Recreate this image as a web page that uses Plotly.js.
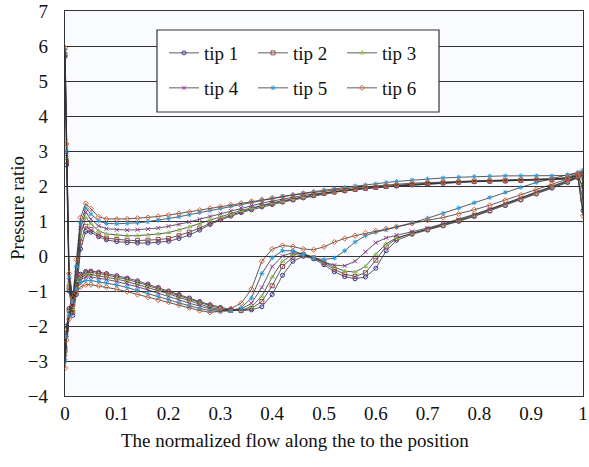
<!DOCTYPE html>
<html>
<head>
<meta charset="utf-8">
<script src="https://cdn.plot.ly/plotly-3.0.1.min.js"></script>
<style>html,body{margin:0;padding:0;background:#fff;}#chart{width:589px;height:467px;}</style>
</head>
<body>
<div id="chart"></div>
<script>
// Shared chordwise positions (normalized)
const xPos = [0, 0.003, 0.008, 0.015, 0.022, 0.03, 0.04, 0.05, 0.065, 0.08,
  0.1, 0.12, 0.14, 0.16, 0.18, 0.2, 0.22, 0.24, 0.26, 0.28,
  0.3, 0.32, 0.34, 0.36, 0.38, 0.4, 0.42, 0.44, 0.46, 0.48,
  0.5, 0.52, 0.54, 0.56, 0.58, 0.6, 0.62, 0.64,
  0.67, 0.7, 0.73, 0.76, 0.79, 0.82, 0.85, 0.88, 0.91, 0.94, 0.97,
  0.99, 1.0];

const tipNames = ["tip 1", "tip 2", "tip 3", "tip 4", "tip 5", "tip 6"];

// Upper branch of each loop
const tip1Upper = [5.7, 2.6, -1.0, -1.7, -1.1, 0.2, 0.7, 0.68, 0.55, 0.46,
  0.41, 0.38, 0.37, 0.37, 0.39, 0.42, 0.5, 0.6, 0.74, 0.9,
  1.03, 1.14, 1.24, 1.32, 1.4, 1.47, 1.54, 1.6, 1.66, 1.72,
  1.78, 1.82, 1.86, 1.9, 1.93, 1.96, 1.98, 2.0,
  2.03, 2.06, 2.08, 2.1, 2.12, 2.13, 2.14, 2.15, 2.16, 2.17, 2.2,
  2.3, 2.35];
const tip2Upper = [5.75, 2.7, -0.9, -1.6, -0.9, 0.4, 0.85, 0.76, 0.6, 0.51,
  0.47, 0.45, 0.44, 0.45, 0.47, 0.5, 0.58, 0.68, 0.8, 0.94,
  1.06, 1.17, 1.27, 1.35, 1.43, 1.5, 1.56, 1.62, 1.68, 1.73,
  1.79, 1.83, 1.87, 1.9, 1.93, 1.96, 1.99, 2.01,
  2.04, 2.07, 2.09, 2.11, 2.13, 2.14, 2.15, 2.16, 2.17, 2.18, 2.21,
  2.31, 2.36];
const tip3Upper = [5.8, 2.8, -0.8, -1.5, -0.7, 0.6, 1.1, 0.92, 0.72, 0.63,
  0.6, 0.58, 0.58, 0.6, 0.63, 0.67, 0.74, 0.83, 0.93, 1.03,
  1.12, 1.21, 1.3, 1.38, 1.45, 1.52, 1.58, 1.64, 1.7, 1.75,
  1.8, 1.84, 1.88, 1.91, 1.94, 1.97, 2.0, 2.02,
  2.05, 2.08, 2.1, 2.12, 2.14, 2.15, 2.16, 2.17, 2.18, 2.19, 2.22,
  2.32, 2.2];
const tip4Upper = [5.85, 2.9, -0.7, -1.4, -0.5, 0.8, 1.25, 1.05, 0.86, 0.78,
  0.75, 0.74, 0.75, 0.77, 0.8, 0.85, 0.9, 0.97, 1.05, 1.13,
  1.21, 1.29, 1.37, 1.44, 1.51, 1.57, 1.63, 1.68, 1.73, 1.77,
  1.81, 1.85, 1.88, 1.91, 1.94, 1.96, 1.99, 2.01,
  2.04, 2.07, 2.09, 2.11, 2.13, 2.14, 2.15, 2.16, 2.17, 2.18, 2.22,
  2.32, 1.9];
const tip5Upper = [5.9, 3.0, -0.6, -1.3, -0.3, 0.95, 1.37, 1.2, 1.0, 0.93,
  0.92, 0.93, 0.95, 0.98, 1.02, 1.07, 1.12, 1.18, 1.24, 1.3,
  1.36, 1.42, 1.48, 1.54, 1.6, 1.65, 1.7, 1.75, 1.8, 1.84,
  1.88, 1.92, 1.96, 2.0, 2.03, 2.06, 2.1, 2.13,
  2.17, 2.2, 2.23, 2.25, 2.27, 2.28, 2.29, 2.29, 2.29, 2.29, 2.3,
  2.38, 2.42];
const tip6Upper = [5.95, 3.2, -0.5, -1.2, -0.1, 1.1, 1.5, 1.35, 1.12, 1.06,
  1.05, 1.06, 1.08, 1.1, 1.13, 1.17, 1.21, 1.26, 1.31, 1.36,
  1.41, 1.46, 1.51, 1.56, 1.61, 1.66, 1.7, 1.74, 1.78, 1.82,
  1.86, 1.89, 1.92, 1.95, 1.98, 2.0, 2.03, 2.05,
  2.08, 2.1, 2.12, 2.14, 2.15, 2.16, 2.17, 2.18, 2.19, 2.2, 2.25,
  2.35, 2.4];

// Lower branch of each loop
const tip1Lower = [-2.6, -2.0, -1.5, -1.1, -0.75, -0.52, -0.44, -0.43, -0.46, -0.5,
  -0.56, -0.63, -0.71, -0.8, -0.9, -1.0, -1.1, -1.2, -1.3, -1.39,
  -1.47, -1.53, -1.56, -1.54, -1.45, -1.1, -0.55, -0.15, -0.01, -0.08,
  -0.25, -0.45, -0.59, -0.65, -0.6, -0.35, 0.15, 0.45,
  0.62, 0.74, 0.86, 0.99, 1.13, 1.28, 1.44, 1.6, 1.77, 1.94, 2.1,
  2.24, 1.3];
const tip2Lower = [-2.7, -2.1, -1.55, -1.15, -0.8, -0.56, -0.48, -0.47, -0.5, -0.54,
  -0.6, -0.67, -0.75, -0.84, -0.93, -1.03, -1.13, -1.23, -1.33, -1.42,
  -1.5, -1.55, -1.56, -1.5, -1.3, -0.85, -0.3, -0.03, 0.03, -0.05,
  -0.2, -0.38, -0.52, -0.58, -0.48, -0.12, 0.28, 0.5,
  0.65, 0.76, 0.88, 1.01, 1.15, 1.3, 1.46, 1.62, 1.79, 1.96, 2.12,
  2.25, 1.6];
const tip3Lower = [-2.8, -2.15, -1.6, -1.2, -0.85, -0.62, -0.54, -0.53, -0.56, -0.6,
  -0.66, -0.73, -0.81, -0.9, -0.99, -1.08, -1.18, -1.28, -1.38, -1.47,
  -1.53, -1.55, -1.55, -1.45, -1.15, -0.6, -0.15, 0.05, 0.06, -0.03,
  -0.17, -0.32, -0.43, -0.46, -0.3, 0.05, 0.35, 0.52,
  0.66, 0.78, 0.9, 1.03, 1.17, 1.32, 1.48, 1.64, 1.81, 1.98, 2.14,
  2.26, 2.0];
const tip4Lower = [-2.9, -2.2, -1.65, -1.25, -0.9, -0.68, -0.6, -0.6, -0.63, -0.67,
  -0.73, -0.8, -0.88, -0.97, -1.06, -1.15, -1.25, -1.35, -1.44, -1.51,
  -1.56, -1.57, -1.52, -1.35, -0.9, -0.3, 0.0, 0.1, 0.06, -0.06,
  -0.18, -0.26, -0.28, -0.15, 0.12, 0.38, 0.52, 0.6,
  0.7, 0.8, 0.92, 1.05, 1.19, 1.34, 1.5, 1.66, 1.83, 1.99, 2.15,
  2.27, 2.3];
const tip5Lower = [-3.0, -2.3, -1.7, -1.3, -0.95, -0.76, -0.7, -0.7, -0.73, -0.77,
  -0.83, -0.9, -0.98, -1.07, -1.16, -1.25, -1.34, -1.43, -1.5, -1.56,
  -1.58, -1.56, -1.48, -1.2, -0.5, -0.05, 0.15, 0.15, 0.05, -0.06,
  -0.1, -0.06, 0.15, 0.4, 0.58, 0.68, 0.75, 0.82,
  0.95, 1.08, 1.22, 1.37, 1.52, 1.67, 1.82, 1.96, 2.1, 2.22, 2.32,
  2.38, 2.45];
const tip6Lower = [-3.2, -2.4, -1.8, -1.4, -1.05, -0.88, -0.82, -0.82, -0.85, -0.89,
  -0.95, -1.02, -1.1, -1.18, -1.26, -1.32, -1.4, -1.48, -1.56, -1.61,
  -1.58, -1.5, -1.35, -0.95, -0.15, 0.2, 0.3, 0.27, 0.2, 0.18,
  0.26, 0.4, 0.5, 0.58, 0.66, 0.72, 0.78, 0.84,
  0.93, 1.02, 1.1, 1.2, 1.32, 1.45, 1.59, 1.74, 1.9, 2.05, 2.2,
  2.3, 1.15];

const xTickVals = [0, 0.1, 0.2, 0.3, 0.4, 0.5, 0.6, 0.7, 0.8, 0.9, 1];
const xTickText = ["0", "0.1", "0.2", "0.3", "0.4", "0.5", "0.6", "0.7", "0.8", "0.9", "1"];
const yTickVals = [-4, -3, -2, -1, 0, 1, 2, 3, 4, 5, 6, 7];

const uppers = [tip1Upper, tip2Upper, tip3Upper, tip4Upper, tip5Upper, tip6Upper];
const lowers = [tip1Lower, tip2Lower, tip3Lower, tip4Lower, tip5Lower, tip6Lower];
const colors = ["#2E2E9E", "#9C4A4A", "#8DC63F", "#993399", "#2A9FE0", "#E0622A"];
const symbols = ["circle-open", "square-open", "triangle-up-open", "x-thin-open", "asterisk-open", "diamond-open"];

const SERIF = "Liberation Serif";
const traces = tipNames.map((name, i) => {
  const xr = xPos.slice().reverse();
  const lr = lowers[i].slice().reverse();
  return {
    type: "scatter",
    mode: "lines+markers",
    name: name,
    x: xPos.concat(xr),
    y: uppers[i].concat(lr),
    line: {color: "#333333", width: 0.8},
    marker: {symbol: symbols[i], size: 4, color: colors[i], line: {color: colors[i], width: 1}},
    legend: i < 3 ? "legend" : "legend2"
  };
});

// plot area geometry (px) used for paper-coordinate placement
const L = 65, R = 6, T = 11, B = 71, W = 589, H = 467;
const PW = W - L - R, PH = H - T - B, PB = H - B;

const legendCommon = {
  orientation: "h",
  bgcolor: "rgba(0,0,0,0)",
  borderwidth: 0,
  font: {family: SERIF, size: 19, color: "#111"},
  xanchor: "left",
  yanchor: "middle",
  entrywidth: 44,
  entrywidthmode: "pixels",
  traceorder: "normal"
};

const layout = {
  width: W, height: H,
  margin: {l: L, r: R, t: T, b: B},
  paper_bgcolor: "#ffffff",
  plot_bgcolor: "#FAFBFE",
  showlegend: true,
  legend: Object.assign({}, legendCommon, {x: (164 - L) / PW, y: (PB - 53) / PH}),
  legend2: Object.assign({}, legendCommon, {x: (164 - L) / PW, y: (PB - 88) / PH}),
  shapes: [{
    type: "rect", xref: "paper", yref: "paper",
    x0: (157 - L) / PW, x1: (439 - L) / PW,
    y0: (PB - 112) / PH, y1: (PB - 30) / PH,
    fillcolor: "#ffffff", line: {color: "#333333", width: 1.2}, layer: "above"
  }],
  annotations: [{
    text: "The normalized flow along the to the position",
    xref: "paper", yref: "paper",
    x: (294.5 - L) / PW, y: (PB - 440) / PH,
    xanchor: "center", yanchor: "middle", showarrow: false,
    font: {family: SERIF, size: 19, color: "#111"}
  }, {
    text: "Pressure ratio",
    xref: "paper", yref: "paper",
    x: (17 - L) / PW, y: (PB - 208) / PH,
    xanchor: "center", yanchor: "middle", showarrow: false, textangle: -90,
    font: {family: SERIF, size: 19, color: "#111"}
  }],
  xaxis: {
    range: [0, 1], tickvals: xTickVals, ticktext: xTickText,
    showgrid: false, zeroline: false,
    showline: true, mirror: true, linecolor: "#333333", linewidth: 1.2,
    ticks: "", ticklabeloverflow: "allow",
    tickfont: {family: SERIF, size: 19, color: "#111"}
  },
  yaxis: {
    range: [-4, 7], tickvals: yTickVals,
    showgrid: true, gridcolor: "#333333", gridwidth: 1,
    zeroline: false,
    showline: true, mirror: true, linecolor: "#333333", linewidth: 1.2,
    ticks: "", ticklabelstandoff: 12,
    tickfont: {family: SERIF, size: 19, color: "#111"}
  }
};

Plotly.newPlot("chart", traces, layout, {displayModeBar: false, staticPlot: true});
</script>
</body>
</html>
